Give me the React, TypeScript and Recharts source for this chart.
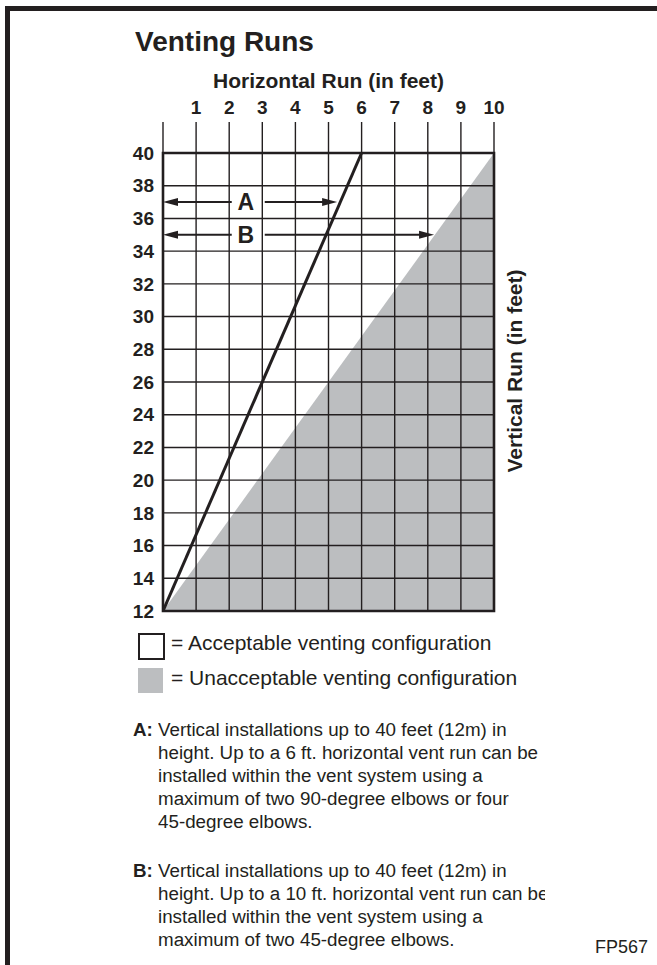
import React from 'react';
import {
  ComposedChart,
  Area,
  Line,
  XAxis,
  YAxis,
  CartesianGrid,
  ReferenceArea,
  ReferenceLine,
} from 'recharts';

const INK = '#231f20';
const GRAY = '#bcbec0';
const FONT = "'Liberation Sans', Arial, Helvetica, sans-serif";

// axes (feet)
const horizontalTicks = [0, 1, 2, 3, 4, 5, 6, 7, 8, 9, 10];
const verticalTicks = [12, 14, 16, 18, 20, 22, 24, 26, 28, 30, 32, 34, 36, 38, 40];

// edge of the unacceptable (gray) zone
const unacceptableEdge = [
  { run: 0, rise: 12 },
  { run: 10, rise: 40 },
];

// the black limit line
const limitLine = [
  { run: 0, rise: 12 },
  { run: 6, rise: 40 },
];

// the A / B span arrows
const arrowNames = ['A', 'B'];
const arrowHeights = [37, 35];
const arrowReach = [5.26, 8.19];
const arrowLabelRun = 2.5;

const notesA = [
  'Vertical installations up to 40 feet (12m) in',
  'height. Up to a 6 ft. horizontal vent run can be',
  'installed within the vent system using a',
  'maximum of two 90-degree elbows or four',
  '45-degree elbows.',
];
const notesB = [
  'Vertical installations up to 40 feet (12m) in',
  'height. Up to a 10 ft. horizontal vent run can be',
  'installed within the vent system using a',
  'maximum of two 45-degree elbows.',
];

const spanArrow = (i: number) => (p: any) => {
  const { x1, y1, x2 } = p;
  const y = y1;
  const lx = x1 + ((x2 - x1) * arrowLabelRun) / arrowReach[i];
  const head = 15;
  const half = 4;
  return (
    <g>
      <line x1={x1 + 8} y1={y} x2={lx - 14} y2={y} stroke={INK} strokeWidth={2} />
      <line x1={lx + 19} y1={y} x2={x2 - 8} y2={y} stroke={INK} strokeWidth={2} />
      <polygon points={`${x1},${y} ${x1 + head},${y - half} ${x1 + head},${y + half}`} fill={INK} />
      <polygon points={`${x2},${y} ${x2 - head},${y - half} ${x2 - head},${y + half}`} fill={INK} />
      <text
        x={lx}
        y={y}
        textAnchor="middle"
        dominantBaseline="central"
        fontFamily={FONT}
        fontWeight={700}
        fontSize={23}
        fill={INK}
      >
        {arrowNames[i]}
      </text>
    </g>
  );
};

const HorizontalTitle = ({ viewBox }: any) => (
  <text
    x={viewBox.x + viewBox.width / 2}
    y={viewBox.y + 28}
    textAnchor="middle"
    fontFamily={FONT}
    fontWeight={700}
    fontSize={21}
    fill={INK}
  >
    Horizontal Run (in feet)
  </text>
);

const VerticalTitle = ({ viewBox }: any) => {
  const cx = viewBox.x + viewBox.width / 2;
  const cy = viewBox.y + viewBox.height / 2 - 11;
  return (
    <text
      x={cx}
      y={cy}
      transform={`rotate(-90 ${cx} ${cy})`}
      textAnchor="middle"
      dominantBaseline="central"
      fontFamily={FONT}
      fontWeight={700}
      fontSize={21}
      fill={INK}
    >
      Vertical Run (in feet)
    </text>
  );
};

const noteText: React.CSSProperties = {
  position: 'absolute',
  fontFamily: FONT,
  fontSize: 18.8,
  lineHeight: '23px',
  color: INK,
  whiteSpace: 'nowrap',
};

export default function App() {
  return (
    <div style={{ position: 'absolute', left: 0, top: 0, width: 657, height: 965, background: '#fff', overflow: 'hidden' }}>
      <ComposedChart width={657} height={965} margin={{ top: 60, right: 123, bottom: 354, left: 123 }}>
        <XAxis
          xAxisId={0}
          dataKey="run"
          type="number"
          orientation="top"
          domain={[0, 10]}
          ticks={horizontalTicks}
          tickFormatter={(v: number) => (v === 0 ? '' : String(v))}
          height={93}
          tickSize={31}
          tickMargin={8}
          axisLine={false}
          tickLine={{ stroke: INK, strokeWidth: 1.4 }}
          tick={{ fill: INK, fontSize: 19, fontWeight: 700, fontFamily: FONT }}
          label={<HorizontalTitle />}
          allowDataOverflow
        />
        <YAxis
          yAxisId={0}
          type="number"
          domain={[12, 40]}
          ticks={verticalTicks}
          width={40}
          tickSize={0}
          tickMargin={9}
          axisLine={false}
          tickLine={false}
          tick={{ fill: INK, fontSize: 19, fontWeight: 700, fontFamily: FONT }}
          allowDataOverflow
        />
        <YAxis
          yAxisId="right"
          orientation="right"
          type="number"
          domain={[12, 40]}
          width={40}
          tick={false}
          tickLine={false}
          axisLine={false}
          label={<VerticalTitle />}
        />
        <Area
          data={unacceptableEdge}
          dataKey="rise"
          type="linear"
          fill={GRAY}
          fillOpacity={1}
          stroke="none"
          isAnimationActive={false}
        />
        <CartesianGrid stroke={INK} strokeWidth={1.4} fill="none" zIndex={150} />
        <ReferenceArea x1={0} x2={10} y1={12} y2={40} fill="none" fillOpacity={0} stroke={INK} strokeWidth={2.6} />
        <Line
          data={limitLine}
          dataKey="rise"
          type="linear"
          stroke={INK}
          strokeWidth={3}
          dot={false}
          activeDot={false}
          isAnimationActive={false}
        />
        {arrowNames.map((name, i) => (
          <ReferenceLine
            key={name}
            segment={[
              { x: 0, y: arrowHeights[i] },
              { x: arrowReach[i], y: arrowHeights[i] },
            ]}
            stroke={INK}
            shape={spanArrow(i)}
          />
        ))}
      </ComposedChart>

      {/* page frame */}
      <div style={{ position: 'absolute', left: 5, top: 6, width: 652, height: 5, background: INK }} />
      <div style={{ position: 'absolute', left: 5, top: 6, width: 5, height: 959, background: INK }} />

      <div style={{ position: 'absolute', left: 135, top: 28, fontFamily: FONT, fontWeight: 700, fontSize: 28, lineHeight: '28px', color: INK, whiteSpace: 'nowrap' }}>
        Venting Runs
      </div>

      {/* legend */}
      <div style={{ position: 'absolute', left: 138, top: 633, width: 27, height: 27, border: `2px solid ${INK}`, boxSizing: 'border-box', background: '#fff' }} />
      <div style={{ ...noteText, left: 171, top: 631, fontSize: 21, lineHeight: '24px' }}>= Acceptable venting configuration</div>
      <div style={{ position: 'absolute', left: 138, top: 668, width: 25, height: 25, background: GRAY }} />
      <div style={{ ...noteText, left: 171, top: 666, fontSize: 21, lineHeight: '24px' }}>= Unacceptable venting configuration</div>

      {/* notes */}
      <div style={{ ...noteText, left: 133, top: 718, fontWeight: 700 }}>A:</div>
      <div style={{ ...noteText, left: 158, top: 718, width: 387, overflow: 'hidden' }}>
        {notesA.map((t) => (
          <div key={t}>{t}</div>
        ))}
      </div>
      <div style={{ ...noteText, left: 133, top: 859, fontWeight: 700 }}>B:</div>
      <div style={{ ...noteText, left: 158, top: 859, width: 387, overflow: 'hidden' }}>
        {notesB.map((t) => (
          <div key={t}>{t}</div>
        ))}
      </div>
      <div style={{ ...noteText, left: 595, top: 937, fontSize: 18, lineHeight: '20px' }}>FP567</div>
    </div>
  );
}
